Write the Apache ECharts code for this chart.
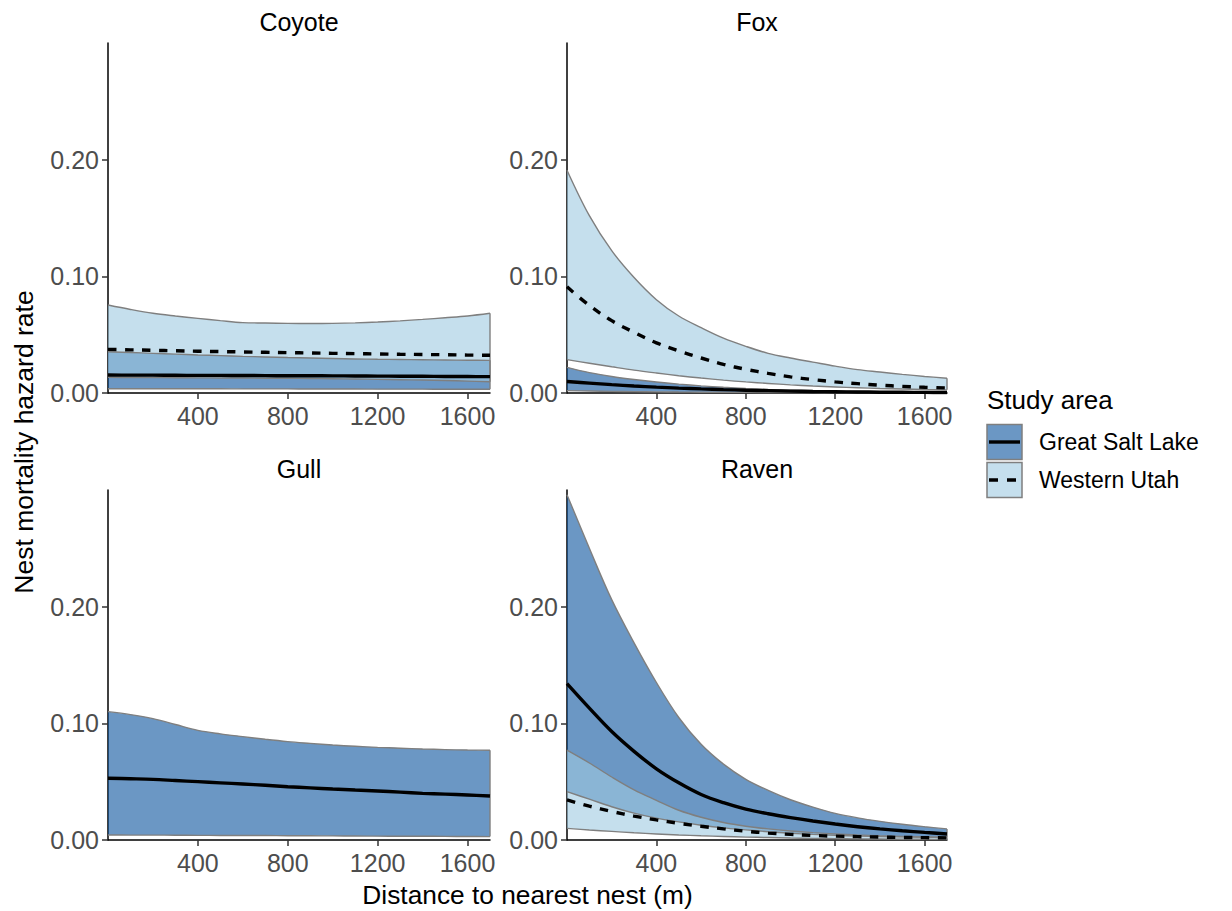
<!DOCTYPE html>
<html><head><meta charset="utf-8">
<script src="https://cdn.jsdelivr.net/npm/echarts@6/dist/echarts.min.js"></script>
<style>html,body{margin:0;padding:0;background:#fff}#chart{width:1232px;height:911px}</style>
</head><body><div id="chart"></div>
<script>
// ---- data ----
const distance = [0,100,200,300,400,500,600,700,800,900,1000,1100,1200,1300,1400,1500,1600,1700];
const xTickLabels = ['400','800','1200','1600'];
const yTickLabels = ['0.00','0.10','0.20'];
const predators = ['Coyote','Fox','Gull','Raven'];
const studyAreas = ['Great Salt Lake','Western Utah'];

const coyoteGslLow  = [0.0037,0.0037,0.0037,0.0036,0.0036,0.0036,0.0035,0.0035,0.0035,0.0034,0.0034,0.0034,0.0033,0.0033,0.0033,0.0032,0.0032,0.0032];
const coyoteGslFit  = [0.0154,0.0153,0.0153,0.0152,0.0151,0.0151,0.0150,0.0149,0.0148,0.0148,0.0147,0.0146,0.0145,0.0144,0.0143,0.0142,0.0141,0.0140];
const coyoteGslHigh = [0.0354,0.0347,0.0340,0.0333,0.0326,0.0320,0.0314,0.0309,0.0304,0.0300,0.0296,0.0292,0.0289,0.0287,0.0285,0.0283,0.0281,0.0280];
const coyoteWuLow   = [0.0134,0.0133,0.0132,0.0131,0.0130,0.0129,0.0128,0.0127,0.0126,0.0124,0.0122,0.0120,0.0117,0.0114,0.0111,0.0107,0.0102,0.0097];
const coyoteWuFit   = [0.0374,0.0370,0.0366,0.0362,0.0358,0.0355,0.0352,0.0349,0.0346,0.0343,0.0340,0.0337,0.0335,0.0332,0.0330,0.0328,0.0325,0.0323];
const coyoteWuHigh  = [0.0754,0.0716,0.0683,0.0660,0.0640,0.0620,0.0603,0.0600,0.0597,0.0596,0.0597,0.0601,0.0608,0.0618,0.0631,0.0645,0.0660,0.0683];

const foxGslLow  = [0.0020,0.0017,0.0014,0.0012,0.0010,0.0008,0.0007,0.0006,0.0005,0.0004,0.0003,0.0003,0.0002,0.0002,0.0002,0.0001,0.0001,0.0001];
const foxGslFit  = [0.0098,0.0085,0.0072,0.0060,0.0050,0.0042,0.0035,0.0029,0.0024,0.0020,0.0016,0.0013,0.0011,0.0009,0.0007,0.0006,0.0005,0.0004];
const foxGslHigh = [0.0220,0.0175,0.0142,0.0116,0.0094,0.0076,0.0061,0.0049,0.0039,0.0031,0.0025,0.0020,0.0016,0.0013,0.0010,0.0008,0.0007,0.0006];
const foxWuLow   = [0.0286,0.0255,0.0225,0.0196,0.0171,0.0148,0.0128,0.0110,0.0095,0.0082,0.0070,0.0060,0.0052,0.0045,0.0039,0.0034,0.0030,0.0027];
const foxWuFit   = [0.0910,0.0750,0.0620,0.0520,0.0430,0.0360,0.0300,0.0245,0.0203,0.0168,0.0138,0.0115,0.0095,0.0080,0.0067,0.0057,0.0049,0.0043];
const foxWuHigh  = [0.1910,0.1520,0.1220,0.0990,0.0800,0.0660,0.0560,0.0470,0.0400,0.0340,0.0300,0.0265,0.0230,0.0200,0.0180,0.0160,0.0142,0.0127];

const gullGslLow  = [0.0043,0.0042,0.0042,0.0041,0.0040,0.0039,0.0038,0.0038,0.0037,0.0036,0.0035,0.0034,0.0033,0.0032,0.0032,0.0031,0.0030,0.0029];
const gullGslFit  = [0.0529,0.0525,0.0520,0.0510,0.0500,0.0490,0.0480,0.0469,0.0457,0.0447,0.0437,0.0428,0.0420,0.0410,0.0400,0.0393,0.0386,0.0377];
const gullGslHigh = [0.1100,0.1075,0.1040,0.0990,0.0940,0.0910,0.0886,0.0863,0.0843,0.0828,0.0814,0.0803,0.0794,0.0787,0.0780,0.0775,0.0771,0.0769];

const ravenGslLow  = [0.0414,0.0350,0.0285,0.0230,0.0187,0.0155,0.0127,0.0104,0.0087,0.0071,0.0058,0.0048,0.0040,0.0034,0.0030,0.0027,0.0024,0.0022];
const ravenGslFit  = [0.1340,0.1130,0.0930,0.0760,0.0610,0.0490,0.0390,0.0320,0.0265,0.0225,0.0192,0.0163,0.0137,0.0114,0.0095,0.0079,0.0065,0.0052];
const ravenGslHigh = [0.2960,0.2500,0.2060,0.1690,0.1350,0.1050,0.0820,0.0650,0.0520,0.0425,0.0345,0.0282,0.0228,0.0190,0.0160,0.0135,0.0114,0.0095];
const ravenWuLow   = [0.0100,0.0086,0.0074,0.0062,0.0052,0.0043,0.0036,0.0030,0.0025,0.0021,0.0017,0.0014,0.0012,0.0010,0.0008,0.0007,0.0006,0.0005];
const ravenWuFit   = [0.0343,0.0290,0.0245,0.0205,0.0172,0.0143,0.0118,0.0095,0.0075,0.0060,0.0048,0.0039,0.0033,0.0029,0.0025,0.0022,0.0020,0.0018];
const ravenWuHigh  = [0.0770,0.0660,0.0540,0.0430,0.0340,0.0255,0.0195,0.0150,0.0118,0.0095,0.0077,0.0063,0.0052,0.0043,0.0036,0.0030,0.0025,0.0021];

// ---- styling ----
const FONT = '"Liberation Sans", Arial, Helvetica, sans-serif';
const GREY = '#7f7f7f';
const FILL = {gsl:'#08519c', wu:'#9ecae1'};
const FILL_ALPHA = 0.6;

const panels = [
  {title:predators[0], grid:{left:108,top:43,width:382,height:350}, titlePos:[299,22],
   bands:[{key:'gsl',lo:coyoteGslLow,fit:coyoteGslFit,hi:coyoteGslHigh},{key:'wu',lo:coyoteWuLow,fit:coyoteWuFit,hi:coyoteWuHigh}]},
  {title:predators[1], grid:{left:567,top:43,width:380,height:350}, titlePos:[757,22],
   bands:[{key:'gsl',lo:foxGslLow,fit:foxGslFit,hi:foxGslHigh},{key:'wu',lo:foxWuLow,fit:foxWuFit,hi:foxWuHigh}]},
  {title:predators[2], grid:{left:108,top:490,width:382,height:350}, titlePos:[299,469],
   bands:[{key:'gsl',lo:gullGslLow,fit:gullGslFit,hi:gullGslHigh}]},
  {title:predators[3], grid:{left:567,top:490,width:380,height:350}, titlePos:[757,469],
   bands:[{key:'gsl',lo:ravenGslLow,fit:ravenGslFit,hi:ravenGslHigh},{key:'wu',lo:ravenWuLow,fit:ravenWuFit,hi:ravenWuHigh}]}
];

const cats = distance.map(String);
const xLabelSet = new Set(xTickLabels);
const lastCat = cats[cats.length-1];

const series = [];
panels.forEach((p, i) => {
  const common = {type:'line', xAxisIndex:i, yAxisIndex:i, symbol:'none', showSymbol:false,
                  smooth:0.35, silent:true, animation:false};
  p.bands.forEach(b => {
    const stack = 'band' + i + b.key;
    series.push(Object.assign({}, common, {stack, z:2,
      data: b.lo.slice(), lineStyle:{color:GREY, width:1.4}}));
    series.push(Object.assign({}, common, {stack, z:2,
      data: b.hi.map((h,k) => +(h - b.lo[k]).toFixed(6)),
      lineStyle:{color:GREY, width:1.4},
      areaStyle:{color:FILL[b.key], opacity:FILL_ALPHA, origin:'auto'}}));
  });
  p.bands.forEach(b => {
    series.push(Object.assign({}, common, {smooth:false, z:3,
      data: [[lastCat, b.lo[b.lo.length-1]], [lastCat, b.hi[b.hi.length-1]]],
      lineStyle:{color:GREY, width:1.4}}));
  });
  p.bands.forEach(b => {
    series.push(Object.assign({}, common, {z:4,
      data: b.fit.slice(),
      lineStyle:{color:'#000', width:3.4, type: b.key === 'gsl' ? 'solid' : [8.5, 8.5], cap:'butt'}}));
  });
});

const textStyle = (txt, size, extra) => Object.assign({
  text: txt, fill:'#000', font: size + 'px ' + FONT,
  align:'center', verticalAlign:'middle', textAlign:'center', textVerticalAlign:'middle'
}, extra || {});

const graphic = [];
panels.forEach(p => graphic.push({type:'text', x:p.titlePos[0], y:p.titlePos[1], style:textStyle(p.title, 25)}));
graphic.push({type:'text', x:527.5, y:895, style:textStyle('Distance to nearest nest (m)', 26.3)});
graphic.push({type:'text', x:24, y:442, rotation:Math.PI/2, style:textStyle('Nest mortality hazard rate', 26.5)});
// legend
graphic.push({type:'text', x:987, y:400, style:textStyle('Study area', 26, {align:'left', textAlign:'left'})});
[['gsl', 424.5, 'solid'], ['wu', 462.5, 'dash']].forEach((d, k) => {
  graphic.push({type:'rect', shape:{x:987, y:d[1], width:35, height:35},
    style:{fill:FILL[d[0]], opacity:1, fillOpacity:FILL_ALPHA, stroke:GREY, lineWidth:1.5}});
  graphic.push({type:'line', shape:{x1:989, y1:d[1]+17.5, x2:1020, y2:d[1]+17.5},
    style:{stroke:'#000', lineWidth:3.4, lineDash: d[2] === 'solid' ? null : [9, 9]}});
  graphic.push({type:'text', x:1039, y:d[1]+17.5, style:textStyle(studyAreas[k], 23, {align:'left', textAlign:'left'})});
});

const option = {
  backgroundColor:'#fff',
  animation:false,
  grid: panels.map(p => p.grid),
  xAxis: panels.map((p, i) => ({
    type:'category', gridIndex:i, data:cats, boundaryGap:false,
    axisLine:{show:true, onZero:false, lineStyle:{color:'#000', width:1.5}},
    axisTick:{show:true, length:6, interval:(idx, val) => xLabelSet.has(val), lineStyle:{color:'#333', width:1.5}},
    axisLabel:{show:true, interval:(idx, val) => xLabelSet.has(val), color:'#4d4d4d', fontSize:25, fontFamily:FONT, margin:10},
    splitLine:{show:false}
  })),
  yAxis: panels.map((p, i) => ({
    type:'value', gridIndex:i, min:0, max:0.3, interval:0.1,
    axisLine:{show:true, lineStyle:{color:'#000', width:1.5}},
    axisTick:{show:true, length:6, customValues:[0, 0.1, 0.2], lineStyle:{color:'#333', width:1.5}},
    axisLabel:{show:true, color:'#4d4d4d', fontSize:25, fontFamily:FONT, margin:9,
      formatter: v => { const t = yTickLabels[Math.round(v * 10)]; return t === undefined ? '' : t; }},
    splitLine:{show:false}
  })),
  series,
  graphic
};

const chart = echarts.init(document.getElementById('chart'), null, {renderer:'svg', width:1232, height:911});
chart.setOption(option);
</script></body></html>
